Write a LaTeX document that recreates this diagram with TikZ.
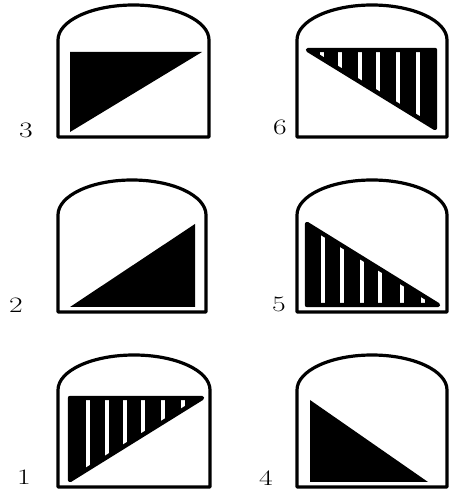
\documentclass[tikz,border=0pt]{standalone}
\usepackage{tikz}

\begin{document}
\begin{tikzpicture}[x=1pt, y=1pt,
  archframe/.style={line width=3.2pt, line join=round},
  blackpart/.style={fill=black},
  stripe/.style={white, line width=3.4pt},
  stripeedge/.style={black, line width=4.4pt, line join=round},
  digit/.style={font=\fontsize{22}{24}\selectfont, inner sep=0pt, xscale=1.35, transform shape}]
  \useasboundingbox (0,0) rectangle (451,498);
  % Frames: straight sides, flat bottom, shallow arch on top
  \draw[archframe] (58,361) -- (58,458) arc[start angle=180, end angle=0, x radius=75.5, y radius=35] -- (209,361) -- cycle;
  \draw[archframe] (297,361) -- (297,458) arc[start angle=180, end angle=0, x radius=75, y radius=35] -- (447,361) -- cycle;
  \draw[archframe] (58,186) -- (58,283) arc[start angle=180, end angle=0, x radius=74, y radius=35] -- (206,186) -- cycle;
  \draw[archframe] (297,186) -- (297,283) arc[start angle=180, end angle=0, x radius=75, y radius=35] -- (447,186) -- cycle;
  \draw[archframe] (58,11) -- (58,108) arc[start angle=180, end angle=0, x radius=76, y radius=35] -- (210,11) -- cycle;
  \draw[archframe] (297,11) -- (297,108) arc[start angle=180, end angle=0, x radius=75, y radius=35] -- (447,11) -- cycle;
  % Solid triangles
  \fill[blackpart] (70,446) -- (202,446) -- (70,366) -- cycle;
  \fill[blackpart] (70,191) -- (195,191) -- (195,274) -- cycle;
  \fill[blackpart] (310,98) -- (310,16) -- (428,16) -- cycle;
  % Striped triangle 6
  \fill[blackpart] (308,448) -- (435,448) -- (435,370) -- cycle;
  \begin{scope}
    \clip (308,448) -- (435,448) -- (435,370) -- cycle;
    \foreach \sx in {322,340,360,378,398,418}
      \draw[stripe] (\sx,370) -- (\sx,448);
  \end{scope}
  \draw[stripeedge] (308,448) -- (435,448) -- (435,370) -- cycle;
  % Striped triangle 5
  \fill[blackpart] (307,274) -- (307,193) -- (438,193) -- cycle;
  \begin{scope}
    \clip (307,274) -- (307,193) -- (438,193) -- cycle;
    \foreach \sx in {323,342,362,380,402,423}
      \draw[stripe] (\sx,193) -- (\sx,274);
  \end{scope}
  \draw[stripeedge] (307,274) -- (307,193) -- (438,193) -- cycle;
  % Striped triangle 1
  \fill[blackpart] (70,100) -- (202,100) -- (70,18) -- cycle;
  \begin{scope}
    \clip (70,100) -- (202,100) -- (70,18) -- cycle;
    \foreach \sx in {88,107,125,143,163,183}
      \draw[stripe] (\sx,18) -- (\sx,100);
  \end{scope}
  \draw[stripeedge] (70,100) -- (202,100) -- (70,18) -- cycle;
  % Labels
  \node[digit] (lab3) at (26,368) {3};
  \node[digit] (lab6) at (280,371) {6};
  \node[digit] (lab2) at (16,193) {2};
  \node[digit] (lab5) at (279,194) {5};
  \node[digit] (lab1) at (24,21) {1};
  \node[digit] (lab4) at (266,20) {4};
\end{tikzpicture}
\end{document}
